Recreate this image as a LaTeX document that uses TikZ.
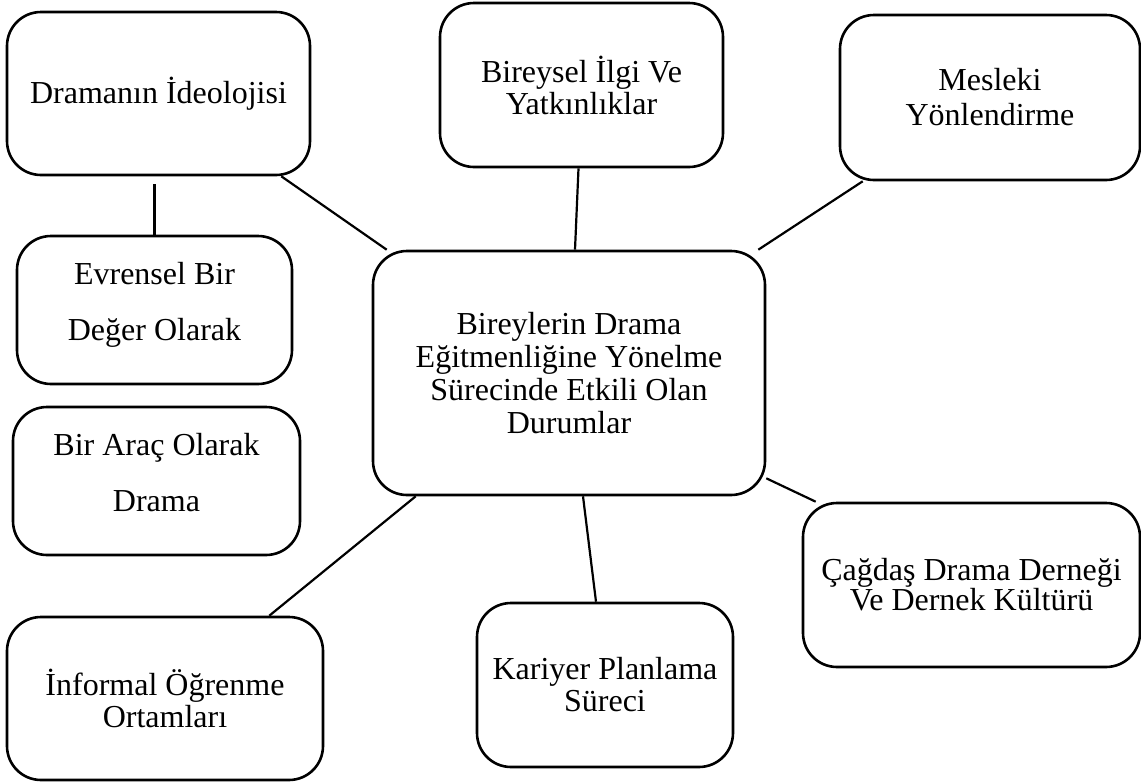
\documentclass[tikz,border=0pt]{standalone}
\usepackage{fontspec}
\setmainfont{Liberation Serif}

\begin{document}
\begin{tikzpicture}[x=1pt, y=-1pt, every node/.style={font=\fontsize{32}{32}\selectfont},
  box/.style={draw, line width=2.6pt, rounded corners=34pt, align=center, inner sep=0pt},
  spaced/.style={font=\fontsize{32}{56}\selectfont, text depth=17pt},
  link/.style={line width=2.2pt}]
\useasboundingbox (0,0) rectangle (1141,782);
\node[box, minimum width=392pt, minimum height=244pt, font=\fontsize{32}{33}\selectfont] (center) at (569,373)
  {Bireylerin Drama\\Eğitmenliğine Yönelme\\Sürecinde Etkili Olan\\Durumlar};
\node[box, minimum width=303pt, minimum height=163pt] (ideology) at (158.5,93.5) {Dramanın İdeolojisi};
\node[box, minimum width=283pt, minimum height=164pt] (interest) at (581.5,85) {Bireysel İlgi Ve\\Yatkınlıklar};
\node[box, minimum width=300pt, minimum height=165pt, font=\fontsize{32}{35}\selectfont] (guidance) at (990,97.5) {Mesleki\\Yönlendirme};
\node[box, spaced, minimum width=275pt, minimum height=148pt] (value) at (154.5,310) {Evrensel Bir\\Değer Olarak};
\node[box, spaced, minimum width=287pt, minimum height=148pt] (tool) at (156.5,481) {Bir Araç Olarak\\Drama};
\node[box, minimum width=337pt, minimum height=164pt, font=\fontsize{32}{30}\selectfont] (society) at (971.5,585) {Çağdaş Drama Derneği\\Ve Dernek Kültürü};
\node[box, minimum width=256pt, minimum height=164pt] (career) at (605,685) {Kariyer Planlama\\Süreci};
\node[box, minimum width=316pt, minimum height=163pt] (informal) at (165,698.5) {İnformal Öğrenme\\Ortamları};
\draw[link] ([xshift=-30pt]ideology.south east) -- ([xshift=15pt]center.north west);
\draw[link] ([yshift=-8pt]value.north |- ideology.south) -- (value.north);
\draw[link] ([xshift=-3pt]interest.south) -- ([xshift=6pt]center.north);
\draw[link] ([xshift=24pt]guidance.south west) -- ([xshift=-8pt]center.north east);
\draw[link] ([yshift=18pt]center.south east) -- ([xshift=14pt]society.north west);
\draw[link] ([xshift=14pt]center.south) -- ([xshift=-9pt]career.north);
\draw[link] ([xshift=44pt]center.south west) -- ([xshift=-55pt]informal.north east);
\end{tikzpicture}
\end{document}
